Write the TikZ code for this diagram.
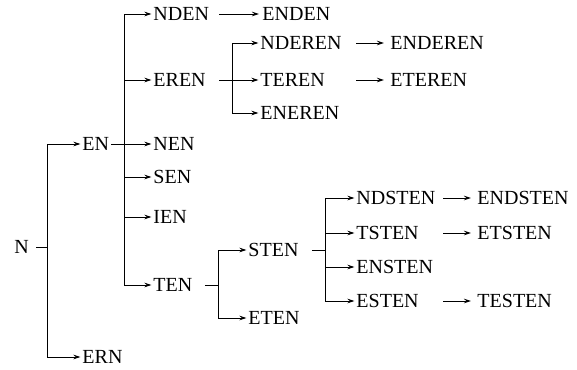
\documentclass[tikz,border=0pt]{standalone}
\usepackage{fontspec}
\setmainfont{Liberation Serif}
\usetikzlibrary{arrows.meta}

\tikzset{
    word/.style={anchor=west, inner sep=0pt, font=\fontsize{20}{24}\selectfont},
    >={Stealth[length=7pt,width=4.5pt]},
}

\begin{document}
\begin{tikzpicture}[x=1pt, y=-1pt, line width=0.9pt]
    \useasboundingbox (0,0) rectangle (577,369);

    % Слова (левый край текста)
    \node[word] (N)       at (14,247)  {N};
    \node[word] (EN)      at (82,144)  {EN};
    \node[word] (ERN)     at (82,357)  {ERN};

    \node[word] (NDEN)    at (153,14)  {NDEN};
    \node[word] (EREN)    at (153,80)  {EREN};
    \node[word] (NEN)     at (153,144) {NEN};
    \node[word] (SEN)     at (153,177) {SEN};
    \node[word] (IEN)     at (153,217) {IEN};
    \node[word] (TEN)     at (153,285) {TEN};

    \node[word] (ENDEN)   at (262,14)  {ENDEN};
    \node[word] (NDEREN)  at (260,43)  {NDEREN};
    \node[word] (TEREN)   at (260,80)  {TEREN};
    \node[word] (ENEREN)  at (260,113) {ENEREN};
    \node[word] (ENDEREN) at (390,43)  {ENDEREN};
    \node[word] (ETEREN)  at (390,80)  {ETEREN};

    \node[word] (STEN)    at (248,250) {STEN};
    \node[word] (ETEN)    at (248,318) {ETEN};
    \node[word] (NDSTEN)  at (356,198) {NDSTEN};
    \node[word] (TSTEN)   at (356,233) {TSTEN};
    \node[word] (ENSTEN)  at (356,267) {ENSTEN};
    \node[word] (ESTEN)   at (356,301) {ESTEN};
    \node[word] (ENDSTEN) at (477,198) {ENDSTEN};
    \node[word] (ETSTEN)  at (477,233) {ETSTEN};
    \node[word] (TESTEN)  at (477,301) {TESTEN};

    % Точки ветвления (вертикальные скобки)
    \coordinate (b1) at (47,247);
    \coordinate (b2) at (124,144);
    \coordinate (b3) at (232,80);
    \coordinate (b4) at (218,285);
    \coordinate (b5) at (325,250);

    % Начала стрелок в столбцах
    \coordinate (a1) at (219,0);
    \coordinate (a2) at (356,0);
    \coordinate (a3) at (443,0);

    % N
    \draw[shorten <=7pt] (N) -- (b1);
    \draw[->, shorten >=1.5pt] (b1) |- (EN);
    \draw[->, shorten >=1.5pt] (b1) |- (ERN);

    % EN
    \draw[shorten <=1.5pt] (EN) -- (b2);
    \foreach \w in {NDEN, EREN, NEN, SEN, IEN, TEN}
        \draw[->, shorten >=1.5pt] (b2) |- (\w);

    % EREN
    \draw[shorten <=13pt] (EREN) -- (b3);
    \foreach \w in {NDEREN, TEREN, ENEREN}
        \draw[->, shorten >=1.5pt] (b3) |- (\w);

    % TEN
    \draw[shorten <=12pt] (TEN) -- (b4);
    \foreach \w in {STEN, ETEN}
        \draw[->, shorten >=1.5pt] (b4) |- (\w);

    % STEN
    \draw[shorten <=13pt] (STEN) -- (b5);
    \foreach \w in {NDSTEN, TSTEN, ENSTEN, ESTEN}
        \draw[->, shorten >=1.5pt] (b5) |- (\w);

    % Переходы вправо
    \draw[->, shorten >=3pt] (NDEN -| a1)   -- (ENDEN);
    \draw[->, shorten >=6pt] (NDEREN -| a2) -- (ENDEREN);
    \draw[->, shorten >=6pt] (TEREN -| a2)  -- (ETEREN);
    \draw[->, shorten >=6pt] (NDSTEN -| a3) -- (ENDSTEN);
    \draw[->, shorten >=6pt] (TSTEN -| a3)  -- (ETSTEN);
    \draw[->, shorten >=6pt] (ESTEN -| a3)  -- (TESTEN);

\end{tikzpicture}
\end{document}
